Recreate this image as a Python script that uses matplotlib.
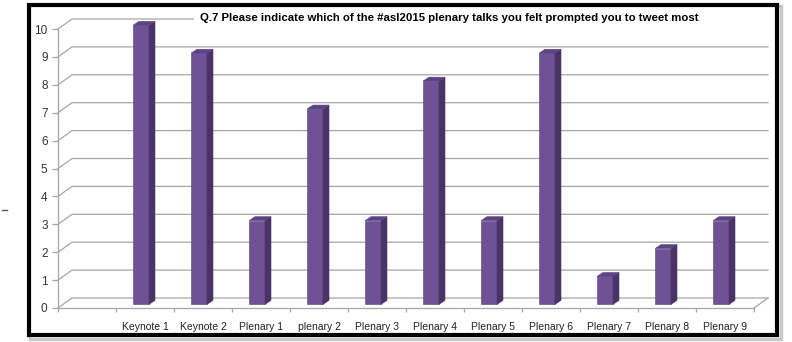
import matplotlib
matplotlib.use("Agg")
import matplotlib.pyplot as plt
from matplotlib.patches import Polygon, Rectangle
from matplotlib.lines import Line2D

# Data
categories = ["", "Keynote 1", "Keynote 2", "Plenary 1", "plenary 2", "Plenary 3",
              "Plenary 4", "Plenary 5", "Plenary 6", "Plenary 7", "Plenary 8", "Plenary 9"]
counts = [0, 10, 9, 3, 7, 3, 8, 3, 9, 1, 2, 3]
y_ticks = list(range(0, 11))
title = "Q.7 Please indicate which of the #asl2015 plenary talks you felt prompted you to tweet most"

plt.rcParams['font.family'] = ['Liberation Sans', 'DejaVu Sans']

W, H = 792, 342
fig = plt.figure(figsize=(W / 100, H / 100), dpi=100)

# outer frame (pixel layout), drawn behind the axes
fig.patches.append(Rectangle((30 / W, 1 - 339 / H), 751 / W, 333 / H, transform=fig.transFigure,
                             facecolor="none", edgecolor="#c8c8c8", lw=2.5, zorder=-2))
fig.patches.append(Rectangle((29 / W, 1 - 335 / H), 748 / W, 330 / H, transform=fig.transFigure,
                             facecolor="white", edgecolor="black", lw=3.0, zorder=-1))
fig.lines.append(Line2D([2 / W, 7 / W], [1 - 210 / H, 1 - 210 / H], transform=fig.transFigure,
                        color="#555555", lw=1))

ax = fig.add_axes([58 / W, 1 - 308 / H, 696 / W, 279 / H])
ax.set_zorder(1)
ax.set_xlim(0, len(categories))
ax.set_ylim(0, 10)
ax.patch.set_visible(False)

grid_col = "#a6a6a6"
dx, dy = 14 / 58, 10 / 27.9   # wall depth offset in data units
n = len(categories)

# back wall gridlines with perspective
for v in y_ticks:
    ax.plot([0, dx, n + dx], [v, v + dy, v + dy], color=grid_col, lw=0.9,
            clip_on=False, zorder=1, solid_joinstyle="miter")
# floor right edge
ax.plot([n, n + dx], [0, dy], color=grid_col, lw=0.9, clip_on=False, zorder=1)

# bars as 3D columns
front_c, side_c, top_c = "#6f5296", "#4a3369", "#5d4384"
b0 = 0.13
bw_l, bw_r = 12 / 58, 4 / 58
bdx, bdy = 6 / 58, 4 / 27.9
for i, v in enumerate(counts):
    if v == 0:
        continue
    c = i + 0.5
    x0, x1 = c - bw_l, c + bw_r
    top = v + b0
    ax.add_patch(Polygon([(x0, b0), (x1, b0), (x1, top), (x0, top)], closed=True,
                         facecolor=front_c, edgecolor="#5a3f7e", lw=0.4, zorder=3, clip_on=False))
    ax.add_patch(Polygon([(x1, b0), (x1 + bdx, b0 + bdy), (x1 + bdx, top + bdy), (x1, top)], closed=True,
                         facecolor=side_c, edgecolor=side_c, lw=0.4, zorder=3, clip_on=False))
    ax.add_patch(Polygon([(x0, top), (x1, top), (x1 + bdx, top + bdy), (x0 + bdx, top + bdy)], closed=True,
                         facecolor=top_c, edgecolor=top_c, lw=0.4, zorder=3, clip_on=False))

# axes styling
for s in ["top", "right"]:
    ax.spines[s].set_visible(False)
for s in ["left", "bottom"]:
    ax.spines[s].set_color(grid_col)
    ax.spines[s].set_linewidth(0.9)

ax.set_yticks(y_ticks)
ax.set_yticklabels([str(t) for t in y_ticks])
ax.tick_params(axis="y", length=4, width=0.9, color=grid_col, pad=3.5,
               labelsize=8.5, labelcolor="#333333")
ax.set_xticks(range(n + 1))
ax.set_xticklabels([])
ax.tick_params(axis="x", which="major", length=3, width=0.9, color=grid_col)
ax.set_xticks([i + 0.5 for i in range(n)], minor=True)
ax.set_xticklabels(categories, minor=True)
ax.tick_params(axis="x", which="minor", length=0, pad=10, labelsize=7.5, labelcolor="#222222")

# title with white box hiding the top gridline
fig.patches.append(Rectangle((194 / W, 1 - 27 / H), 580 / W, 18 / H, transform=fig.transFigure,
                             facecolor="white", edgecolor="none", zorder=2))
fig.text(449 / W, 1 - 18 / H, title, ha="center", va="center", fontsize=8.2,
         fontweight="bold", color="black", zorder=5)

fig.savefig("out.png", dpi=100)
